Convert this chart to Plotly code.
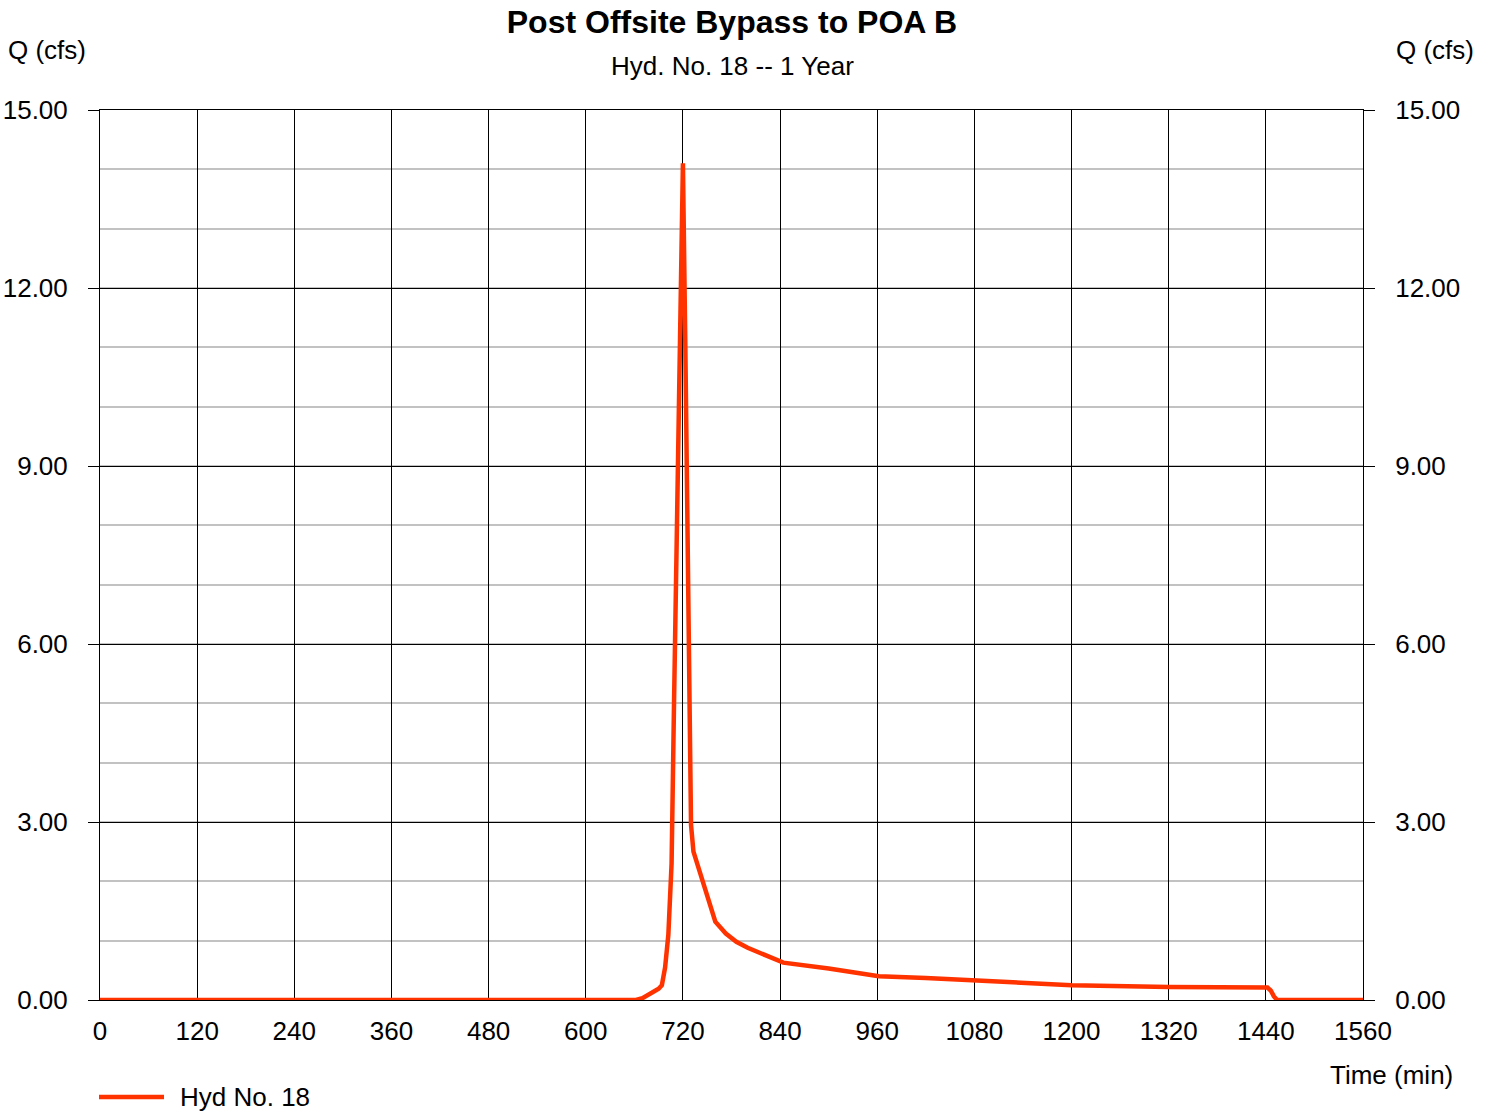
import plotly.graph_objects as go

# Hydrograph data (time in minutes, flow in cfs)
time_min = [0, 662, 670, 680, 690, 694, 698, 702, 706, 709, 713, 716, 720,
            723, 726, 728, 730, 733, 746, 760, 773, 786, 800, 820, 844, 900,
            962, 1020, 1080, 1140, 1200, 1320, 1442, 1446, 1450, 1454, 1560]
flow_cfs = [0.0, 0.0, 0.03, 0.1, 0.19, 0.25, 0.55, 1.1, 2.3, 5.0, 8.4, 11.5, 14.1,
            11.0, 7.4, 4.6, 2.95, 2.5, 1.9, 1.32, 1.12, 0.98, 0.88, 0.76, 0.63, 0.53,
            0.40, 0.37, 0.33, 0.29, 0.25, 0.22, 0.21, 0.16, 0.06, 0.0, 0.0]

x_ticks = [0, 120, 240, 360, 480, 600, 720, 840, 960, 1080, 1200, 1320, 1440, 1560]
y_ticks = [0, 3, 6, 9, 12, 15]

title_text = "Post Offsite Bypass to POA B"
subtitle_text = "Hyd. No. 18 -- 1 Year"
series_name = "Hyd No. 18"

FONT = "Liberation Sans, Arial, sans-serif"
LINE_COLOR = "#FF3300"
W, H = 1491, 1112
L, R, T, B = 100, 1363, 110, 1000

def px(xp):
    return (xp - L) / (R - L)

def py(yp):
    return (B - yp) / (B - T)

fig = go.Figure()
fig.add_trace(go.Scatter(
    x=time_min, y=flow_cfs, mode="lines", name=series_name,
    line=dict(color=LINE_COLOR, width=4.5), xaxis="x", yaxis="y",
    showlegend=False))
fig.add_trace(go.Scatter(
    x=time_min, y=flow_cfs, mode="lines", showlegend=False, hoverinfo="skip",
    line=dict(color="rgba(0,0,0,0)", width=0), xaxis="x", yaxis="y2"))

common_y = dict(
    range=[0, 15], tickvals=y_ticks, tickformat=".2f",
    ticks="outside", ticklen=11, tickcolor="black", tickwidth=1,
    ticklabelstandoff=15,
    tickfont=dict(family=FONT, size=26, color="black"),
    zeroline=False,
)

fig.update_layout(
    width=W, height=H,
    margin=dict(l=L, r=W - R, t=T, b=H - B, autoexpand=False),
    paper_bgcolor="white", plot_bgcolor="white",
    font=dict(family=FONT, size=26, color="black"),
    title=dict(text="<b>" + title_text + "</b>", x=px(732), xref="paper",
               xanchor="center", y=1 - 22 / H, yanchor="middle",
               font=dict(family=FONT, size=32, color="black")),
    xaxis=dict(
        range=[0, 1560], tickvals=x_ticks, ticks="",
        ticklabelstandoff=8,
        tickfont=dict(family=FONT, size=26, color="black"),
        showgrid=True, gridcolor="black", gridwidth=1,
        showline=True, linecolor="black", linewidth=1, mirror=True,
        zeroline=False,
    ),
    yaxis=dict(
        **common_y, side="left",
        showgrid=True, gridcolor="black", gridwidth=1,
        minor=dict(dtick=1, showgrid=True, gridcolor="#c2c2c2", gridwidth=2, ticks=""),
        showline=True, linecolor="black", linewidth=1, mirror=True,
    ),
    yaxis2=dict(
        **common_y, side="right", overlaying="y", showgrid=False,
        showline=False,
    ),
    showlegend=False,
)

# legend (drawn manually to match the long sample line)
fig.add_shape(type="line", xref="paper", yref="paper",
              x0=px(99), x1=px(164), y0=py(1097), y1=py(1097),
              line=dict(color=LINE_COLOR, width=4.5))
fig.add_annotation(text=series_name, xref="paper", yref="paper",
                   x=px(178), y=py(1097), xanchor="left", yanchor="middle",
                   showarrow=False, font=dict(family=FONT, size=26, color="black"))

fig.add_annotation(text=subtitle_text, xref="paper", yref="paper",
                   x=px(732), y=py(66), xanchor="center", yanchor="middle",
                   showarrow=False, font=dict(family=FONT, size=26, color="black"))
fig.add_annotation(text="Q (cfs)", xref="paper", yref="paper",
                   x=px(6), y=py(50), xanchor="left", yanchor="middle",
                   showarrow=False, font=dict(family=FONT, size=26, color="black"))
fig.add_annotation(text="Q (cfs)", xref="paper", yref="paper",
                   x=px(1476), y=py(50), xanchor="right", yanchor="middle",
                   showarrow=False, font=dict(family=FONT, size=26, color="black"))
fig.add_annotation(text="Time (min)", xref="paper", yref="paper",
                   x=px(1455), y=py(1075), xanchor="right", yanchor="middle",
                   showarrow=False, font=dict(family=FONT, size=26, color="black"))

fig.write_html("out.html",
               config={"displayModeBar": False},
               post_script="document.body.style.margin='0';document.body.style.overflow='hidden';")
